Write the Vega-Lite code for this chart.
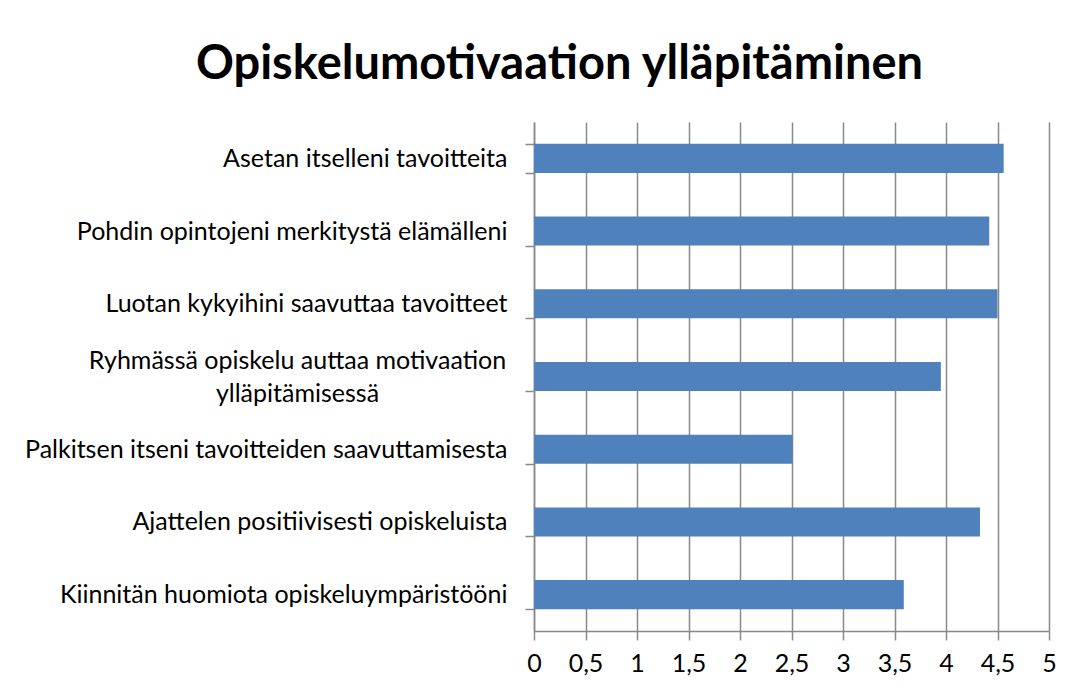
{
  "$schema": "https://vega.github.io/schema/vega-lite/v6.json",
  "autosize": "none",
  "width": 515,
  "height": 509,
  "padding": {"left": 534, "top": 122, "right": 25, "bottom": 60},
  "background": "white",
  "title": {
    "text": "Opiskelumotivaation ylläpitäminen",
    "font": "Lato",
    "fontWeight": "bold",
    "fontSize": 47,
    "color": "black",
    "anchor": "middle",
    "frame": "group",
    "dx": -232,
    "offset": 21
  },
  "data": {
    "values": [
      {"kysymys": "Asetan itselleni tavoitteita", "arvo": 4.56},
      {"kysymys": "Pohdin opintojeni merkitystä elämälleni", "arvo": 4.42},
      {"kysymys": "Luotan kykyihini saavuttaa tavoitteet", "arvo": 4.5},
      {"kysymys": "Ryhmässä opiskelu auttaa motivaation ylläpitämisessä", "arvo": 3.95},
      {"kysymys": "Palkitsen itseni tavoitteiden saavuttamisesta", "arvo": 2.51},
      {"kysymys": "Ajattelen positiivisesti opiskeluista", "arvo": 4.33},
      {"kysymys": "Kiinnitän huomiota opiskeluympäristööni", "arvo": 3.59}
    ]
  },
  "mark": {"type": "bar", "color": "#4F81BD"},
  "encoding": {
    "y": {
      "field": "kysymys",
      "type": "nominal",
      "sort": null,
      "title": null,
      "scale": {"paddingInner": 0.6, "paddingOuter": 0.3},
      "axis": {
        "tickBand": "extent",
        "tickSize": 9,
        "tickColor": "#898989",
        "tickWidth": 1.5,
        "domainColor": "#898989",
        "domainWidth": 1.5,
        "grid": false,
        "labelFont": "Lato",
        "labelFontSize": 25,
        "labelColor": "black",
        "labelLimit": 700,
        "labelLineHeight": 33,
        "labelAlign": {"condition": {"test": "datum.value == 'Ryhmässä opiskelu auttaa motivaation ylläpitämisessä'", "value": "center"}, "value": "right"},
        "labelPadding": {"condition": {"test": "datum.value == 'Ryhmässä opiskelu auttaa motivaation ylläpitämisessä'", "value": 228}, "value": 18},
        "labelOffset": {"condition": {"test": "datum.value == 'Ryhmässä opiskelu auttaa motivaation ylläpitämisessä'", "value": -16}, "value": 0},
        "labelExpr": "datum.value == 'Ryhmässä opiskelu auttaa motivaation ylläpitämisessä' ? ['Ryhmässä opiskelu auttaa motivaation', 'ylläpitämisessä'] : datum.label"
      }
    },
    "x": {
      "field": "arvo",
      "type": "quantitative",
      "title": null,
      "scale": {"domain": [0, 5], "nice": false},
      "axis": {
        "values": [0, 0.5, 1, 1.5, 2, 2.5, 3, 3.5, 4, 4.5, 5],
        "labelExpr": "replace(format(datum.value, '~g'), '.', ',')",
        "grid": true,
        "gridColor": "#898989",
        "gridWidth": 1.5,
        "tickSize": 9,
        "tickColor": "#898989",
        "tickWidth": 1.5,
        "domainColor": "#898989",
        "domainWidth": 1.5,
        "labelFont": "Lato",
        "labelFontSize": 25,
        "labelColor": "black",
        "labelPadding": 11,
        "labelFlush": false
      }
    }
  },
  "config": {"view": {"stroke": null}}
}
